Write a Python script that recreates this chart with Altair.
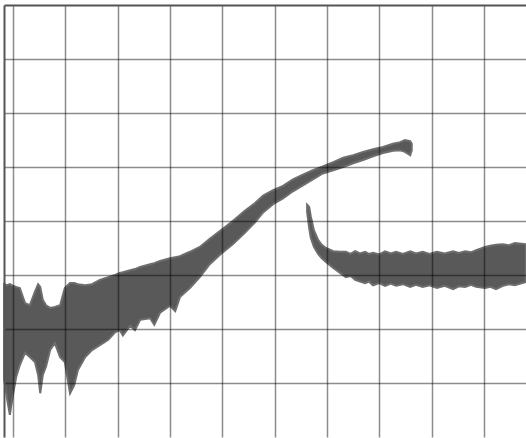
import altair as alt
import pandas as pd

# Trace 1: noisy low end rising into a narrow band (x in divisions, y in divisions)
sweep1_x = [-0.17, -0.11, -0.06, 0.00, 0.06, 0.13, 0.23, 0.32, 0.42, 0.48,
            0.52, 0.57, 0.63, 0.71, 0.80, 0.90, 0.99, 1.09, 1.17, 1.24,
            1.38, 1.51, 1.66, 1.82, 1.95, 2.04, 2.10, 2.24, 2.33, 2.43,
            2.62, 2.70, 2.81, 3.00, 3.10, 3.19, 3.38, 3.57, 3.76, 3.96,
            4.20, 4.43, 4.62, 4.78, 4.97, 5.16, 5.35, 5.54, 5.73, 5.92,
            6.12, 6.31, 6.50, 6.69, 6.88, 7.07, 7.26, 7.40, 7.49, 7.59, 7.62]
sweep1_hi = [2.83, 2.81, 2.83, 2.80, 2.78, 2.76, 2.48, 2.44, 2.69, 2.83,
             2.78, 2.54, 2.44, 2.39, 2.41, 2.44, 2.76, 2.85, 2.85, 2.83,
             2.81, 2.83, 2.91, 2.96, 3.00, 3.04, 3.05, 3.09, 3.11, 3.15,
             3.20, 3.22, 3.26, 3.31, 3.33, 3.35, 3.43, 3.52, 3.67, 3.82,
             4.00, 4.19, 4.33, 4.47, 4.57, 4.65, 4.77, 4.86, 4.94, 5.01,
             5.09, 5.17, 5.22, 5.28, 5.33, 5.37, 5.43, 5.46, 5.50, 5.48, 5.43]
sweep1_lo = [1.06, 0.69, 0.41, 0.78, 1.11, 1.33, 1.56, 1.48, 1.39, 1.15,
             0.81, 1.15, 1.30, 1.61, 1.74, 1.48, 1.39, 0.81, 0.96, 1.24,
             1.48, 1.61, 1.70, 1.80, 1.94, 1.98, 1.88, 2.06, 1.98, 2.17,
             2.20, 2.08, 2.30, 2.43, 2.33, 2.59, 2.76, 2.96, 3.20, 3.38,
             3.57, 3.78, 3.97, 4.16, 4.31, 4.42, 4.55, 4.66, 4.77, 4.88,
             4.94, 5.00, 5.07, 5.13, 5.20, 5.26, 5.30, 5.31, 5.28, 5.22, 5.31]

# Trace 2: drops in after the step and settles flat
sweep2_x = [5.62, 5.66, 5.69, 5.75, 5.83, 5.90, 5.98, 6.12, 6.25, 6.36,
            6.45, 6.54, 6.63, 6.73, 6.80, 6.88, 7.00, 7.11, 7.22, 7.32,
            7.45, 7.59, 7.70, 7.83, 7.96, 8.10, 8.25, 8.41, 8.52, 8.64,
            8.75, 8.85, 9.02, 9.12, 9.23, 9.36, 9.48, 9.59, 9.80]
sweep2_hi = [4.30, 4.26, 4.09, 3.83, 3.65, 3.56, 3.50, 3.44, 3.43, 3.43,
             3.39, 3.44, 3.40, 3.43, 3.39, 3.41, 3.38, 3.44, 3.40, 3.43,
             3.39, 3.44, 3.40, 3.43, 3.39, 3.43, 3.40, 3.44, 3.41, 3.44,
             3.42, 3.46, 3.52, 3.54, 3.56, 3.57, 3.55, 3.59, 3.57]
sweep2_lo = [4.17, 3.87, 3.69, 3.52, 3.39, 3.31, 3.24, 3.13, 3.04, 2.96,
             2.98, 2.91, 2.88, 2.85, 2.88, 2.81, 2.85, 2.80, 2.84, 2.80,
             2.83, 2.78, 2.82, 2.78, 2.81, 2.76, 2.80, 2.74, 2.79, 2.78,
             2.82, 2.78, 2.76, 2.78, 2.74, 2.80, 2.83, 2.81, 2.87]

GRID_X = list(range(0, 10))
GRID_Y = list(range(1, 8))

sweep1 = pd.DataFrame({"x": sweep1_x, "hi": sweep1_hi, "lo": sweep1_lo})
sweep2 = pd.DataFrame({"x": sweep2_x, "hi": sweep2_hi, "lo": sweep2_lo})

x_scale = alt.Scale(domain=[-0.172, 9.803], nice=False, zero=False)
y_scale = alt.Scale(domain=[0, 8], nice=False, zero=False)

x_axis = alt.Axis(orient="top", values=GRID_X, labels=False, ticks=False,
                  title=None, domain=True, domainColor="#555555", domainWidth=2,
                  grid=True, gridColor="#000000", gridOpacity=0.45,
                  gridWidth=1.5, zindex=1)
y_axis = alt.Axis(orient="left", values=GRID_Y, labels=False, ticks=False,
                  title=None, domain=True, domainColor="#555555", domainWidth=2,
                  grid=True, gridColor="#000000", gridOpacity=0.45,
                  gridWidth=1.5, zindex=1)


def band(df):
    return alt.Chart(df).mark_area(
        color="#595959", stroke="#6e6e6e", strokeWidth=2,
        interpolate="linear",
    ).encode(
        x=alt.X("x:Q", scale=x_scale, axis=x_axis),
        y=alt.Y("hi:Q", scale=y_scale, axis=y_axis),
        y2="lo:Q",
    )


chart = alt.layer(band(sweep1), band(sweep2)).properties(
    width=522,
    height=432,
    padding={"left": 4, "top": 5, "right": 0, "bottom": 1},
    autosize=alt.AutoSizeParams(type="none"),
    background="white",
).configure_view(stroke=None)

chart.save("out.html", embed_options={"renderer": "svg", "actions": False})
